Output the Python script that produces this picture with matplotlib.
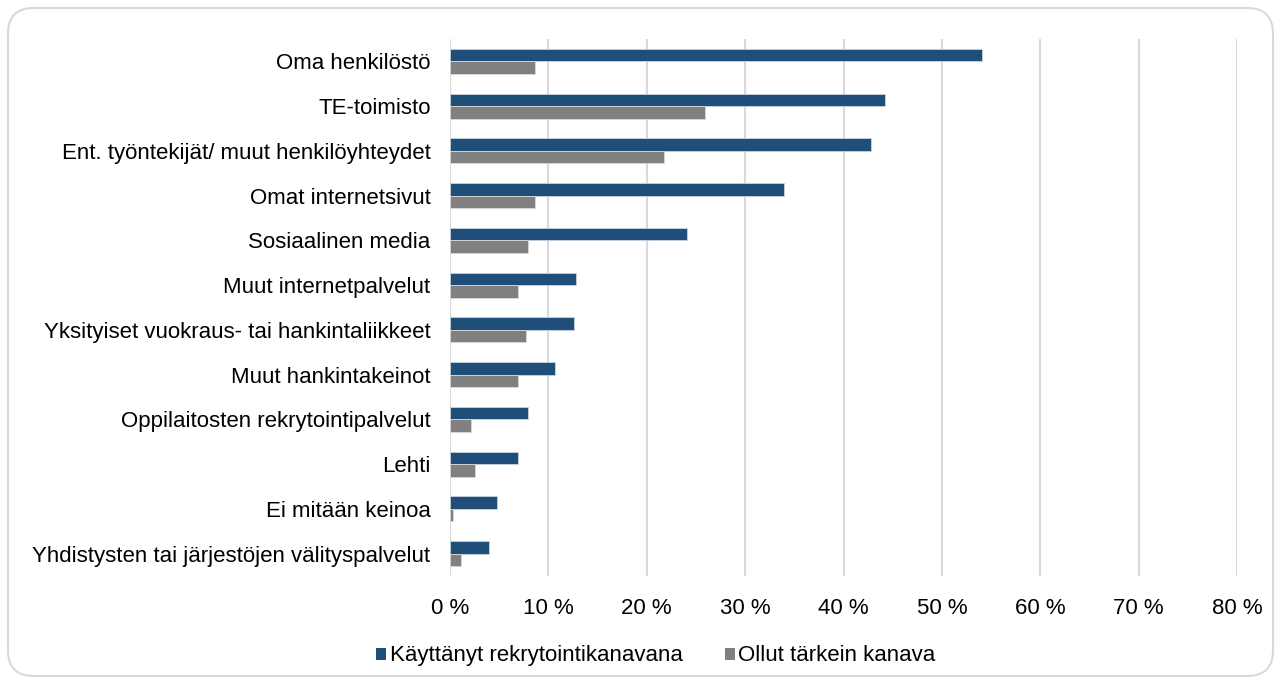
import matplotlib
matplotlib.use("Agg")
import matplotlib.pyplot as plt
from matplotlib.patches import FancyBboxPatch, Patch
from matplotlib.ticker import MultipleLocator, FuncFormatter

plt.rcParams['font.family'] = ['Liberation Sans', 'DejaVu Sans']

categories = [
    "Oma henkilöstö",
    "TE-toimisto",
    "Ent. työntekijät/ muut henkilöyhteydet",
    "Omat internetsivut",
    "Sosiaalinen media",
    "Muut internetpalvelut",
    "Yksityiset vuokraus- tai hankintaliikkeet",
    "Muut hankintakeinot",
    "Oppilaitosten rekrytointipalvelut",
    "Lehti",
    "Ei mitään keinoa",
    "Yhdistysten tai järjestöjen välityspalvelut",
]
used_channel = [54.1, 44.2, 42.8, 33.9, 24.1, 12.8, 12.6, 10.7, 7.9, 6.9, 4.8, 4.0]
main_channel = [8.6, 25.9, 21.7, 8.6, 7.9, 6.9, 7.7, 6.9, 2.1, 2.5, 0.3, 1.1]
series_names = ["Käyttänyt rekrytointikanavana", "Ollut tärkein kanava"]

BLUE = "#1f4e79"
GREY = "#808080"
FS = 16

fig = plt.figure(figsize=(12.81, 6.84), dpi=100)
ax = fig.add_axes([0.3513, 0.158, 0.6144, 0.785])

n = len(categories)
y = list(range(n))
h = 0.28
ax.barh([v - h / 2 for v in y], used_channel, height=h, color=BLUE,
        edgecolor="#c8d3de", linewidth=0.6, zorder=3)
ax.barh([v + h / 2 for v in y], main_channel, height=h, color=GREY,
        edgecolor="#d9d9d9", linewidth=0.6, zorder=3)

ax.set_ylim(n - 0.5, -0.5)
ax.set_xlim(0, 80)
ax.set_yticks(y)
ax.set_yticklabels(categories, fontsize=FS)
ax.xaxis.set_major_locator(MultipleLocator(10))
ax.xaxis.set_major_formatter(FuncFormatter(lambda v, p: f"{v:.0f} %"))
ax.tick_params(axis="x", length=0, pad=16, labelsize=FS)
ax.tick_params(axis="y", length=0, pad=14)
ax.grid(axis="x", color="#d9d9d9", linewidth=1.5, zorder=0)
for s in ax.spines.values():
    s.set_visible(False)

handles = [Patch(facecolor=BLUE, edgecolor="none"), Patch(facecolor=GREY, edgecolor="none")]
fig.legend(handles, series_names, loc="center", bbox_to_anchor=(0.512, 0.041),
           ncol=2, frameon=False, fontsize=FS, handlelength=0.45, handleheight=0.45,
           handletextpad=0.15, columnspacing=1.9)

border = FancyBboxPatch((8 / 1281, 8 / 684), 1265 / 1281, 668 / 684,
                        boxstyle="round,pad=0,rounding_size=0.02",
                        transform=fig.transFigure, facecolor="none",
                        edgecolor="#d9d9d9", linewidth=1.5, mutation_aspect=1281 / 684)
fig.patches.append(border)

fig.savefig("out.png", dpi=100)
